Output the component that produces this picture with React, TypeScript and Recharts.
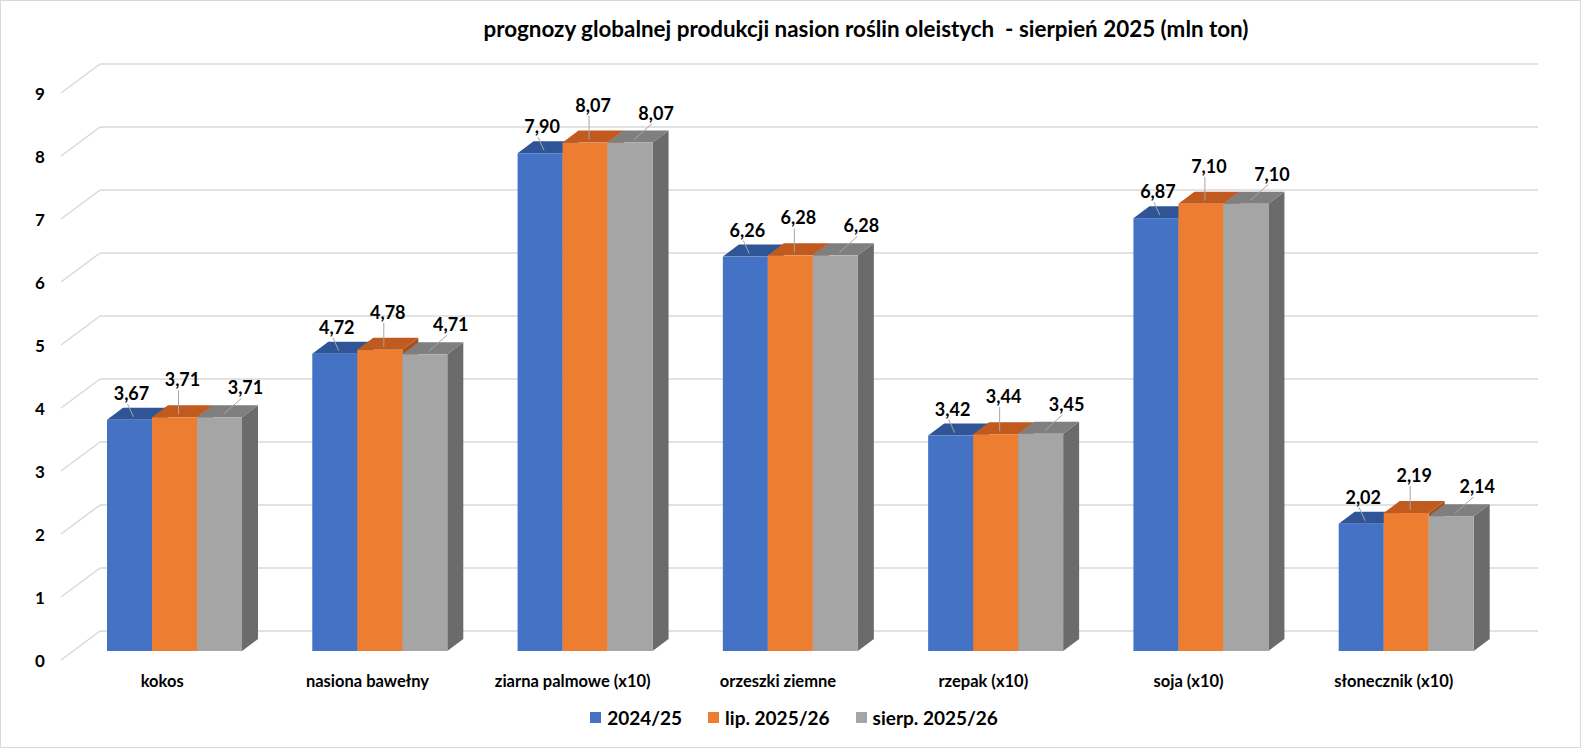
import React from "react";
import { BarChart, Bar, XAxis, YAxis, CartesianGrid, LabelList } from "recharts";

const categories = [
  "kokos",
  "nasiona bawełny",
  "ziarna palmowe (x10)",
  "orzeszki ziemne",
  "rzepak (x10)",
  "soja (x10)",
  "słonecznik (x10)",
];
const prod2024 = [3.67, 4.72, 7.9, 6.26, 3.42, 6.87, 2.02];
const lipiec2025 = [3.71, 4.78, 8.07, 6.28, 3.44, 7.1, 2.19];
const sierpien2025 = [3.71, 4.71, 8.07, 6.28, 3.45, 7.1, 2.14];
const yTicks = [0, 1, 2, 3, 4, 5, 6, 7, 8, 9];

const data = categories.map((name, i) => ({
  name,
  a: prod2024[i],
  b: lipiec2025[i],
  c: sierpien2025[i],
}));

// 3d depth of the boxes
const DX = 16;
const DY = 12;
const FONT = "Lato, 'Open Sans', sans-serif";

const series = [
  { key: "a", name: "2024/25", front: "#4472C4", top: "#2F5597", side: "#2B4C85", lx: 2, ly: -27 },
  { key: "b", name: "lip. 2025/26", front: "#ED7D31", top: "#C05A1E", side: "#A84F1A", lx: 8, ly: -38 },
  { key: "c", name: "sierp. 2025/26", front: "#A5A5A5", top: "#7F7F7F", side: "#6B6B6B", lx: 26, ly: -30 },
];

const fmt = (v: number) => v.toFixed(2).replace(".", ",");

function Box3D(props: any) {
  const { x, y, width, height, front, top, side } = props;
  if (height == null || width == null) return null;
  const r = x + width;
  const b = y + height;
  return (
    <g>
      <polygon points={`${r},${y} ${r + DX},${y - DY} ${r + DX},${b - DY} ${r},${b}`} fill={side} />
      <polygon points={`${x},${y} ${x + DX},${y - DY} ${r + DX},${y - DY} ${r},${y}`} fill={top} />
      <rect x={x} y={y} width={width} height={height} fill={front} />
    </g>
  );
}

function makeLabel(lx: number, ly: number) {
  return (props: any) => {
    const { x, y, width, value } = props;
    const cx = x + width / 2;
    const tx = cx + lx;
    const ty = y + ly;
    return (
      <g>
        <line x1={cx + 4} y1={y - 3} x2={tx - 4} y2={ty + 11} stroke="#A6A6A6" strokeWidth={1} />
        <text
          x={tx}
          y={ty}
          textAnchor="middle"
          dominantBaseline="central"
          fontFamily={FONT}
          fontWeight={700}
          fontSize={18}
          fill="#000"
        >
          {fmt(value)}
        </text>
      </g>
    );
  };
}

// back-wall gridline with the diagonal on the side wall
function GridLine(props: any) {
  const { x1, x2, y1 } = props;
  return (
    <g>
      <line x1={x1 - 11} y1={y1 + 9} x2={x1 + 28} y2={y1 - 20} stroke="#D9D9D9" strokeWidth={1.5} />
      <line x1={x1 + 28} y1={y1 - 20} x2={x2 + 29} y2={y1 - 20} stroke="#D9D9D9" strokeWidth={1.5} />
    </g>
  );
}

function YTick(props: any) {
  const { x, y, payload } = props;
  return (
    <text
      x={x - 32}
      y={y + 9}
      textAnchor="middle"
      dominantBaseline="central"
      fontFamily={FONT}
      fontWeight={700}
      fontSize={17}
      fill="#000"
    >
      {payload.value}
    </text>
  );
}

function XTick(props: any) {
  const { x, y, payload } = props;
  return (
    <text
      x={x - 12.5}
      y={y + 22}
      textAnchor="middle"
      dominantBaseline="central"
      fontFamily={FONT}
      fontWeight={700}
      fontSize={16.5}
      fill="#000"
    >
      {payload.value}
    </text>
  );
}

export default function App() {
  return (
    <div
      style={{
        position: "absolute",
        left: 0,
        top: 0,
        width: 1581,
        height: 748,
        background: "#fff",
        border: "1px solid #D9D9D9",
        boxSizing: "border-box",
        fontFamily: FONT,
      }}
    >
      <div
        style={{
          position: "absolute",
          top: 14,
          left: 0,
          width: 1730,
          textAlign: "center",
          fontWeight: 700,
          fontSize: 22.4,
          color: "#000",
          whiteSpace: "pre",
        }}
      >
        {"prognozy globalnej produkcji nasion roślin oleistych  - sierpień 2025 (mln ton)"}
      </div>
      <div style={{ position: "absolute", left: -1, top: -1 }}>
        <BarChart
          width={1581}
          height={748}
          data={data}
          margin={{ top: 84, right: 72, bottom: 57, left: 0 }}
          barSize={45}
          barGap={0}
        >
          <CartesianGrid vertical={false} horizontal={(p: any) => <GridLine key={p.key} {...p} />} />
          <XAxis dataKey="name" height={40} axisLine={false} tickLine={false} tick={<XTick />} interval={0} />
          <YAxis
            width={72}
            domain={[0, 9]}
            ticks={yTicks}
            axisLine={false}
            tickLine={false}
            tickSize={0}
            tickMargin={0}
            tick={<YTick />}
          />
          {series.map((s) => (
            <Bar
              key={s.key}
              dataKey={s.key}
              name={s.name}
              isAnimationActive={false}
              shape={(p: any) => <Box3D {...p} front={s.front} top={s.top} side={s.side} />}
            >
              <LabelList dataKey={s.key} content={makeLabel(s.lx, s.ly)} />
            </Bar>
          ))}
        </BarChart>
      </div>
      <div
        style={{
          position: "absolute",
          top: 705,
          left: 0,
          width: 1586,
          display: "flex",
          justifyContent: "center",
          gap: 26,
          fontWeight: 700,
          fontSize: 19,
          color: "#000",
        }}
      >
        {series.map((s) => (
          <div key={s.key} style={{ display: "flex", alignItems: "center", gap: 6 }}>
            <span style={{ width: 11, height: 11, background: s.front, display: "inline-block" }} />
            <span>{s.name}</span>
          </div>
        ))}
      </div>
    </div>
  );
}
